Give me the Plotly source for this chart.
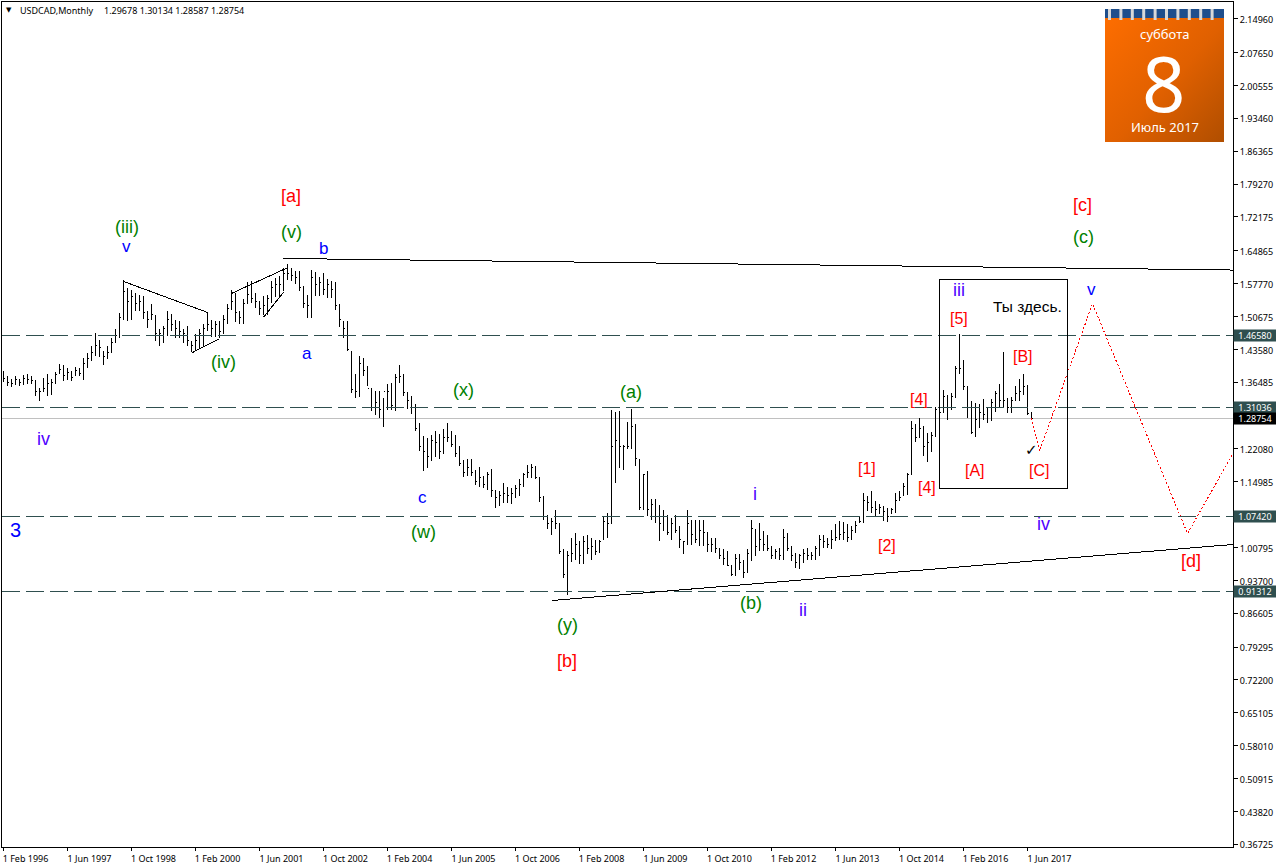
import base64
import plotly.graph_objects as go

highs = [1.389,1.378,1.372,1.379,1.372,1.381,1.382,1.378,1.367,1.353,1.374,1.382,1.372,1.387,1.405,1.401,1.396,1.390,1.398,1.396,
1.418,1.428,1.444,1.472,1.457,1.432,1.443,1.461,1.479,1.515,1.585,1.569,1.564,1.558,1.554,1.551,1.518,1.534,1.508,1.479,
1.487,1.518,1.513,1.500,1.497,1.479,1.486,1.454,1.468,1.480,1.490,1.516,1.500,1.497,1.497,1.511,1.533,1.564,1.558,1.518,
1.544,1.582,1.583,1.558,1.540,1.551,1.554,1.583,1.590,1.595,1.612,1.621,1.612,1.605,1.605,1.572,1.554,1.608,1.603,1.593,
1.601,1.587,1.583,1.581,1.533,1.497,1.497,1.432,1.382,1.421,1.418,1.400,1.353,1.346,1.346,1.331,1.360,1.364,1.382,1.403,
1.382,1.342,1.335,1.317,1.277,1.248,1.245,1.250,1.259,1.252,1.264,1.276,1.259,1.250,1.227,1.197,1.198,1.199,1.176,1.182,
1.162,1.171,1.178,1.130,1.130,1.148,1.139,1.137,1.144,1.155,1.169,1.187,1.189,1.185,1.160,1.119,1.079,1.072,1.088,1.061,
1.004,1.000,1.029,1.040,1.022,1.032,1.034,1.029,1.025,1.025,1.076,1.083,1.304,1.301,1.302,1.230,1.279,1.307,1.274,1.198,
1.166,1.173,1.112,1.113,1.099,1.090,1.079,1.072,1.079,1.054,1.022,1.088,1.068,1.067,1.067,1.067,1.040,1.029,1.029,1.007,
1.004,1.000,0.971,0.993,0.993,0.982,1.004,1.068,1.047,1.061,1.043,1.034,1.011,1.004,1.007,1.047,1.040,1.011,0.996,0.993,
1.004,1.007,0.998,1.012,1.034,1.036,1.029,1.045,1.058,1.065,1.063,1.058,1.054,1.065,1.076,1.125,1.119,1.131,1.108,1.101,
1.097,1.094,1.094,1.125,1.130,1.148,1.169,1.282,1.274,1.287,1.271,1.256,1.257,1.312,1.317,1.348,1.338,1.342,1.400,1.469,
1.413,1.356,1.324,1.320,1.317,1.328,1.310,1.328,1.346,1.360,1.430,1.331,1.333,1.356,1.372,1.382,1.358,1.30134]
lows = [1.365,1.356,1.354,1.358,1.356,1.359,1.362,1.361,1.336,1.325,1.345,1.335,1.338,1.360,1.384,1.367,1.369,1.367,1.378,1.378,
1.369,1.396,1.410,1.421,1.420,1.403,1.414,1.428,1.450,1.461,1.500,1.498,1.500,1.518,1.518,1.502,1.482,1.500,1.454,1.444,
1.450,1.464,1.475,1.461,1.461,1.450,1.443,1.431,1.434,1.437,1.443,1.475,1.463,1.463,1.461,1.468,1.490,1.521,1.495,1.491,
1.490,1.536,1.536,1.526,1.511,1.509,1.511,1.536,1.549,1.552,1.562,1.585,1.583,1.576,1.562,1.524,1.504,1.504,1.551,1.551,
1.554,1.547,1.547,1.520,1.484,1.461,1.432,1.342,1.331,1.333,1.378,1.356,1.302,1.295,1.287,1.268,1.305,1.305,1.302,1.364,
1.335,1.307,1.297,1.259,1.216,1.173,1.180,1.194,1.204,1.198,1.209,1.235,1.225,1.203,1.184,1.160,1.162,1.163,1.144,1.139,
1.137,1.133,1.117,1.094,1.097,1.104,1.104,1.103,1.115,1.119,1.139,1.158,1.158,1.155,1.106,1.068,1.047,1.034,1.047,0.993,
0.942,0.906,0.976,0.982,0.973,0.973,0.995,0.982,0.991,0.996,1.025,1.029,1.058,1.148,1.180,1.176,1.220,1.220,1.185,1.090,
1.090,1.076,1.068,1.061,1.022,1.043,1.034,1.025,1.040,1.007,0.993,1.014,1.014,1.018,1.011,1.011,0.998,0.998,0.996,0.983,
0.971,0.968,0.946,0.946,0.960,0.942,0.953,0.978,0.989,1.000,1.000,1.000,0.983,0.983,0.982,0.982,1.000,0.978,0.964,0.962,
0.975,0.982,0.982,0.982,0.989,1.007,1.007,1.004,1.022,1.025,1.025,1.019,1.025,1.040,1.060,1.061,1.086,1.083,1.076,1.081,
1.065,1.063,1.081,1.083,1.108,1.120,1.122,1.166,1.235,1.245,1.205,1.192,1.214,1.247,1.284,1.299,1.283,1.305,1.331,1.382,
1.349,1.288,1.252,1.246,1.266,1.284,1.277,1.281,1.300,1.312,1.312,1.299,1.299,1.324,1.324,1.338,1.295,1.28587]
closes = [1.372,1.365,1.362,1.370,1.365,1.372,1.370,1.368,1.345,1.345,1.352,1.362,1.365,1.382,1.392,1.380,1.385,1.375,1.390,1.383,
1.405,1.415,1.430,1.445,1.440,1.420,1.430,1.450,1.465,1.505,1.560,1.540,1.550,1.535,1.540,1.515,1.500,1.510,1.470,1.470,
1.480,1.500,1.490,1.480,1.475,1.470,1.455,1.445,1.455,1.470,1.480,1.490,1.480,1.490,1.475,1.500,1.525,1.540,1.515,1.505,
1.535,1.555,1.545,1.540,1.525,1.530,1.545,1.570,1.575,1.575,1.600,1.600,1.595,1.590,1.570,1.535,1.530,1.590,1.575,1.580,
1.565,1.575,1.565,1.530,1.500,1.480,1.435,1.350,1.345,1.405,1.390,1.352,1.310,1.320,1.305,1.345,1.345,1.315,1.375,1.378,
1.342,1.325,1.310,1.265,1.225,1.215,1.205,1.240,1.235,1.215,1.245,1.245,1.230,1.210,1.190,1.170,1.180,1.170,1.150,1.160,
1.145,1.165,1.130,1.115,1.120,1.125,1.120,1.125,1.135,1.145,1.165,1.170,1.180,1.160,1.115,1.075,1.060,1.065,1.060,1.000,
0.950,0.990,0.995,1.015,0.990,1.020,1.005,1.010,1.000,1.022,1.065,1.060,1.225,1.240,1.225,1.225,1.225,1.270,1.200,1.095,
1.165,1.090,1.100,1.075,1.060,1.075,1.040,1.060,1.045,1.025,1.020,1.060,1.035,1.025,1.045,1.040,1.015,1.015,1.005,0.990,
0.985,0.970,0.950,0.985,0.975,0.955,0.995,1.050,1.010,1.025,1.015,1.005,0.990,1.000,0.990,1.030,1.005,0.990,0.975,0.990,
0.995,0.990,0.990,1.005,1.025,1.020,1.015,1.025,1.030,1.035,1.040,1.030,1.045,1.055,1.065,1.110,1.105,1.095,1.090,1.095,
1.085,1.075,1.090,1.110,1.115,1.140,1.165,1.265,1.245,1.265,1.225,1.235,1.250,1.305,1.300,1.335,1.310,1.335,1.395,1.395,
1.355,1.310,1.257,1.285,1.300,1.295,1.310,1.320,1.340,1.325,1.325,1.310,1.325,1.340,1.345,1.355,1.29678,1.28754]
opens = [1.380,1.372,1.365,1.362,1.370,1.365,1.372,1.370,1.368,1.345,1.345,1.352,1.362,1.365,1.384,1.392,1.380,1.385,1.380,1.390,
1.383,1.405,1.415,1.430,1.445,1.428,1.420,1.430,1.450,1.465,1.505,1.560,1.540,1.550,1.535,1.540,1.515,1.500,1.508,1.470,
1.470,1.480,1.500,1.490,1.480,1.475,1.470,1.450,1.445,1.455,1.470,1.480,1.490,1.480,1.490,1.475,1.500,1.525,1.540,1.515,
1.505,1.535,1.555,1.545,1.540,1.525,1.530,1.545,1.570,1.575,1.575,1.600,1.600,1.595,1.590,1.570,1.535,1.530,1.590,1.575,
1.580,1.565,1.575,1.565,1.530,1.497,1.480,1.432,1.350,1.345,1.405,1.390,1.352,1.310,1.320,1.305,1.345,1.345,1.315,1.375,
1.378,1.342,1.325,1.310,1.265,1.225,1.215,1.205,1.240,1.235,1.215,1.245,1.245,1.230,1.210,1.190,1.170,1.180,1.170,1.150,
1.160,1.145,1.165,1.130,1.115,1.120,1.125,1.120,1.125,1.135,1.145,1.165,1.170,1.180,1.160,1.115,1.075,1.060,1.065,1.060,
1.000,0.950,0.990,0.995,1.015,0.990,1.020,1.005,1.010,1.000,1.025,1.065,1.060,1.225,1.240,1.225,1.225,1.225,1.270,1.198,
1.095,1.165,1.090,1.100,1.075,1.060,1.075,1.040,1.060,1.045,1.022,1.020,1.060,1.035,1.025,1.045,1.040,1.015,1.015,1.005,
0.990,0.985,0.970,0.950,0.985,0.975,0.955,0.995,1.047,1.010,1.025,1.015,1.005,0.990,1.000,0.990,1.030,1.005,0.990,0.975,
0.990,0.995,0.990,0.990,1.005,1.025,1.020,1.015,1.025,1.030,1.035,1.040,1.030,1.045,1.065,1.065,1.110,1.105,1.095,1.090,
1.095,1.085,1.075,1.090,1.110,1.120,1.140,1.166,1.265,1.245,1.265,1.225,1.235,1.250,1.305,1.300,1.335,1.310,1.335,1.395,
1.395,1.355,1.310,1.257,1.285,1.300,1.295,1.310,1.320,1.340,1.325,1.325,1.310,1.325,1.340,1.345,1.355,1.29678]
bar_index = list(range(len(closes)))

x_tick_index = [0,16,32,48,64,80,96,112,128,144,160,176,192,208,224,240,256]
x_tick_labels = ["1 Feb 1996","1 Jun 1997","1 Oct 1998","1 Feb 2000","1 Jun 2001","1 Oct 2002","1 Feb 2004","1 Jun 2005",
                 "1 Oct 2006","1 Feb 2008","1 Jun 2009","1 Oct 2010","1 Feb 2012","1 Jun 2013","1 Oct 2014","1 Feb 2016","1 Jun 2017"]
y_tick_labels = ["2.14960","2.07650","2.00555","1.93460","1.86365","1.79270","1.72175","1.64865","1.57770","1.50675",
                 "1.43580","1.36485","1.22080","1.14985","1.00795","0.93700","0.86605","0.79295","0.72200","0.65105",
                 "0.58010","0.50915","0.43820","0.36725"]
levels = [1.46580, 1.31036, 1.07420, 0.91312]
last_price = 1.28754

forecast_index = [257, 259, 272.25, 296, 307.5]
forecast_price = [1.2875, 1.216, 1.5345, 1.038, 1.213]
trend_lines = [
    ((70, 1.632), (307.5, 1.607)),
    ((137.25, 0.8937), (307.5, 1.0146)),
    ((30, 1.5824), (51, 1.5155)),
    ((47.25, 1.429), (54, 1.459)),
    ((57, 1.5565), (71, 1.612)),
    ((65, 1.505), (70, 1.559)),
]
box = (234, 1.1355, 266.1, 1.5867)

RED, GREEN, BLUE, VIOLET = "#FF0000", "#008000", "#0000FF", "#5000FF"
wave_labels = [
    ("v",127,247,BLUE,17),("(iii)",127,227,GREEN,18),("[a]",291,196,RED,18),("(v)",291,232,GREEN,18),
    ("b",323,248,BLUE,17),("a",307,353,BLUE,17),("(iv)",223,362,GREEN,18),("iv",43,439,VIOLET,18),
    ("3",15,530,BLUE,20),("(x)",463,390,GREEN,18),("c",422,497,BLUE,17),("(w)",423,532,GREEN,18),
    ("(a)",631,392,GREEN,18),("i",755,494,VIOLET,18),("(b)",751,603,GREEN,18),("ii",803,610,VIOLET,18),
    ("(y)",567,625,GREEN,18),("[b]",567,661,RED,18),("[1]",867,468,RED,16),("[2]",887,545,RED,16),
    ("[4]",919,399,RED,16),("[4]",927,487,RED,16),("[5]",959,318,RED,16),("iii",959,290,VIOLET,18),
    ("[A]",975,470,RED,16),("[B]",1023,357,RED,16),("[C]",1039,470,RED,16),("iv",1043,524,VIOLET,18),
    ("v",1091,289,BLUE,17),("[c]",1082,205,RED,18),("(c)",1083,237,GREEN,18),("[d]",1191,561,RED,18),
    ("Ты здесь.",1027,306,"#000000",15.5),
]

L, T, R, B = 2, 2, 1233, 847
W, H = 1276, 868
def px(x): return (x - L) / (R - L)
def py(y): return 1 - (y - T) / (B - T)

fig = go.Figure(go.Ohlc(x=bar_index, open=opens, high=highs, low=lows, close=closes,
                        increasing_line=dict(color="#000000", width=1),
                        decreasing_line=dict(color="#000000", width=1),
                        tickwidth=0.25, showlegend=False, hoverinfo="skip"))
fig.add_trace(go.Scatter(x=forecast_index, y=forecast_price, mode="lines", showlegend=False, hoverinfo="skip",
                         line=dict(color="#FF0000", width=1, dash="2px,2px")))

shapes = []
shapes.append(dict(type="line", xref="paper", x0=0, x1=1, yref="y", y0=last_price, y1=last_price,
                   line=dict(color="#C0C0C0", width=1), layer="below"))
for lv in levels:
    shapes.append(dict(type="line", xref="paper", x0=0, x1=1, yref="y", y0=lv, y1=lv,
                       line=dict(color="#2F4F4F", width=1, dash="18px,6px")))
for (a, b) in trend_lines:
    shapes.append(dict(type="line", xref="x", yref="y", x0=a[0], y0=a[1], x1=b[0], y1=b[1],
                       line=dict(color="#000000", width=1)))
shapes.append(dict(type="rect", xref="x", yref="y", x0=box[0], y0=box[1], x1=box[2], y1=box[3],
                   line=dict(color="#000000", width=1), fillcolor="rgba(0,0,0,0)"))

def label(text, x, y, family, size, color, xanchor="center"):
    return dict(text=text, xref="paper", yref="paper", x=px(x), y=py(y), xanchor=xanchor, yanchor="middle",
                showarrow=False, font=dict(family=family, size=size, color=color))

ann = [label(t, x, y, "Liberation Sans", s, c) for t, x, y, c, s in wave_labels]
ann.append(label("✓", 1031, 450, "DejaVu Sans", 15, "#000000"))
ann.append(label("▼", 9, 10, "DejaVu Sans", 7, "#000000"))
ann.append(label("USDCAD,Monthly", 18, 10, "Noto Sans", 9, "#000000", "left"))
ann.append(label("1.29678 1.30134 1.28587 1.28754", 102, 10, "Noto Sans", 9, "#000000", "left"))
for lv in levels + [last_price]:
    ann.append(dict(text=f"{lv:.5f}", xref="paper", yref="y", x=px(1255), y=lv, xanchor="center", yanchor="middle",
                    showarrow=False, width=42, height=11, borderpad=0,
                    bgcolor="#000000" if lv == last_price else "#2F4F4F",
                    font=dict(family="Noto Sans", size=9, color="#FFFFFF")))
ann.append(label("суббота", 1164, 34, "Noto Sans", 13, "#FFFFFF"))
ann.append(label("8", 1163, 82, "Noto Sans", 76, "#FFFFFF"))
ann.append(label("Июль 2017", 1165, 127, "Noto Sans", 13, "#FFFFFF"))

rings = "".join(f'<rect x="{3 + 11.4 * k}" y="0" width="3" height="11" fill="#D8D8D8"/>' for k in range(10))
svg = ('<svg xmlns="http://www.w3.org/2000/svg" width="119" height="133" viewBox="0 0 119 133">'
       '<defs><linearGradient id="g" x1="0" y1="0" x2="1" y2="1">'
       '<stop offset="0" stop-color="#FF6E00"/><stop offset="0.55" stop-color="#E06000"/>'
       '<stop offset="1" stop-color="#B04E00"/></linearGradient></defs>'
       '<rect width="119" height="133" fill="url(#g)"/>'
       '<rect width="119" height="9" fill="#1E4E8C"/>' + rings + '</svg>')
calendar = "data:image/svg+xml;base64," + base64.b64encode(svg.encode()).decode()

fig.update_layout(
    width=W, height=H, margin=dict(l=L, r=W - R, t=T, b=H - B, pad=0),
    paper_bgcolor="#FFFFFF", plot_bgcolor="#FFFFFF", showlegend=False, dragmode=False,
    shapes=shapes, annotations=ann,
    images=[dict(source=calendar, xref="paper", yref="paper", x=px(1105), y=py(9), sizex=119 / (R - L),
                 sizey=133 / (B - T), xanchor="left", yanchor="top", sizing="stretch", layer="above")],
    xaxis=dict(range=[-0.375, 307.375], rangeslider=dict(visible=False), showgrid=False, zeroline=False,
               showline=True, mirror=True, linecolor="#000000", linewidth=1,
               tickmode="array", tickvals=x_tick_index, ticktext=x_tick_labels, ticks="outside", ticklen=3,
               tickcolor="#000000", ticklabelshift=22, tickangle=0,
               tickfont=dict(family="Noto Sans", size=9, color="#000000")),
    yaxis=dict(range=[0.3614, 2.1857], side="right", showgrid=False, zeroline=False,
               showline=True, mirror=True, linecolor="#000000", linewidth=1,
               tickmode="array", tickvals=[float(v) for v in y_tick_labels] + levels,
               ticktext=y_tick_labels + [""] * len(levels), ticks="outside", ticklen=4, tickcolor="#000000",
               ticklabelshift=1,
               tickfont=dict(family="Noto Sans", size=9, color="#000000")),
)
crisp = ("document.body.style.margin='0';document.body.style.overflow='hidden';"
         "document.querySelectorAll('.ohlc path, .shapelayer path, .scatterlayer path')"
         ".forEach(function(p){p.setAttribute('shape-rendering','crispEdges');});")
fig.write_html("out.html", config=dict(displayModeBar=False, staticPlot=True), post_script=crisp)
